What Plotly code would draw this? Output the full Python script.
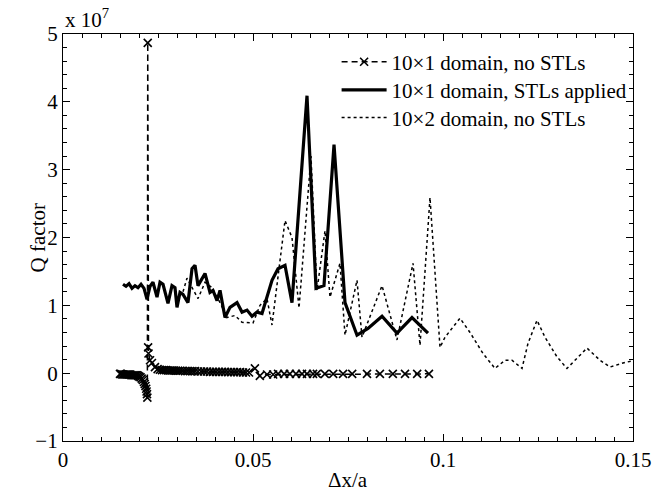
import plotly.graph_objects as go

# ---------------- data (Q factor in units of 1e7) ----------------
# Series 1: 10x1 domain, no STLs
s1_x = [0.0150, 0.0153, 0.0156, 0.0159, 0.0162, 0.0165, 0.0168, 0.0171, 0.0174, 0.0177,
        0.0180, 0.0183, 0.0186, 0.0189, 0.0192, 0.0195, 0.0198, 0.0201, 0.0204, 0.0207,
        0.0210, 0.0213, 0.0215, 0.0217, 0.0219, 0.0220, 0.0221, 0.0222,
        0.0223,
        0.0224, 0.0225, 0.0229, 0.0234, 0.0242, 0.0249, 0.0255,
        0.02605, 0.02658, 0.02711, 0.02763, 0.02816, 0.02868, 0.02921, 0.02974, 0.03026, 0.03079,
        0.03145, 0.03211, 0.03276, 0.03342, 0.03408, 0.03474, 0.03553, 0.03632, 0.03711, 0.03789,
        0.03868, 0.03947, 0.04026, 0.04105, 0.04184, 0.04263, 0.04342, 0.04421, 0.04500, 0.04579,
        0.04658, 0.04737, 0.04816, 0.04895,
        0.0505, 0.0518, 0.0537, 0.0553, 0.0566, 0.0582, 0.0597, 0.0613, 0.0629, 0.0642,
        0.0658, 0.0668, 0.0689, 0.0711, 0.0737, 0.0761, 0.0800, 0.0834, 0.0868, 0.0900,
        0.0932, 0.0963]
s1_y = [-0.01, -0.01, -0.02, -0.02, -0.02, -0.02, -0.02, -0.02, -0.02, -0.02,
        -0.03, -0.03, -0.03, -0.03, -0.03, -0.03, -0.04, -0.05, -0.06, -0.08,
        -0.10, -0.13, -0.16, -0.19, -0.23, -0.27, -0.31, -0.36,
        4.87,
        0.38, 0.29, 0.19, 0.15, 0.09, 0.06, 0.05,
        0.045, 0.045, 0.045, 0.04, 0.04, 0.04, 0.04, 0.035, 0.035, 0.035,
        0.035, 0.03, 0.03, 0.03, 0.03, 0.03, 0.025, 0.025, 0.025, 0.025,
        0.02, 0.02, 0.02, 0.02, 0.02, 0.02, 0.015, 0.015, 0.015, 0.015,
        0.015, 0.01, 0.01, 0.01,
        0.07, -0.04, -0.02, -0.02, -0.01, -0.01, -0.01, -0.01, -0.01, -0.01,
        -0.01, -0.01, -0.01, -0.01, -0.01, -0.01, -0.01, -0.01, -0.01, -0.01,
        -0.01, -0.01]

# Series 2: 10x1 domain, STLs applied
s2_x = [0.01579, 0.01658, 0.01737, 0.01816, 0.01895, 0.01974, 0.02053, 0.02132, 0.02211, 0.02289,
        0.02368, 0.02474, 0.02553, 0.02632, 0.02763, 0.02868, 0.02947, 0.03000, 0.03079, 0.03158,
        0.03289, 0.03395, 0.03474, 0.03553, 0.03737, 0.03868, 0.03947, 0.04053, 0.04132, 0.04263,
        0.04395, 0.04579, 0.04711, 0.04842, 0.04974, 0.05105, 0.05237, 0.05500, 0.05658, 0.05842,
        0.06026, 0.06421, 0.06658, 0.06868, 0.07132, 0.07421, 0.07737, 0.08026, 0.08395, 0.08789,
        0.09184, 0.09605]
s2_y = [1.31, 1.28, 1.32, 1.25, 1.29, 1.26, 1.31, 1.25, 1.09, 1.28,
        1.34, 1.12, 1.34, 1.31, 1.03, 1.29, 1.26, 0.97, 1.19, 1.16,
        1.04, 1.54, 1.59, 1.29, 1.47, 1.19, 1.22, 1.07, 1.22, 0.82,
        0.97, 1.04, 0.90, 0.93, 0.84, 0.90, 0.88, 1.37, 1.54, 1.59,
        1.04, 4.09, 1.25, 1.29, 3.37, 1.04, 0.56, 0.66, 0.84, 0.59,
        0.82, 0.59]

# Series 3: 10x2 domain, no STLs
s3_x = [0.03158, 0.03263, 0.03553, 0.03737, 0.03921, 0.04132, 0.04316, 0.04526, 0.04711, 0.05000,
        0.05184, 0.05368, 0.05500, 0.05842, 0.06026, 0.06211, 0.06526, 0.06684, 0.06895, 0.07026,
        0.07289, 0.07421, 0.07737, 0.07868, 0.08395, 0.08789, 0.09211, 0.09395, 0.09658, 0.09921,
        0.10053, 0.10263, 0.10447, 0.10711, 0.11053, 0.11368, 0.11632, 0.11816, 0.12079, 0.12237,
        0.12474, 0.12684, 0.13000, 0.13263, 0.13526, 0.13789, 0.14132, 0.14395, 0.14737, 0.15000,
        0.15200]
s3_y = [1.20, 1.40, 1.10, 1.34, 1.26, 1.04, 0.82, 0.85, 0.75, 0.74,
        1.00, 1.10, 0.71, 2.25, 2.00, 0.96, 3.20, 1.22, 2.10, 1.12,
        1.62, 0.56, 1.37, 0.53, 1.29, 0.49, 1.62, 0.41, 2.59, 0.38,
        0.53, 0.68, 0.81, 0.60, 0.29, 0.07, 0.19, 0.19, 0.07, 0.44,
        0.78, 0.53, 0.24, 0.07, 0.22, 0.37, 0.19, 0.09, 0.15, 0.19,
        0.21]

names = ["10×1 domain, no STLs", "10×1 domain, STLs applied", "10×2 domain, no STLs"]

x_ticks = [0, 0.05, 0.1, 0.15]
x_ticktext = ["0", "0.05", "0.1", "0.15"]
y_ticks = [-1, 0, 1, 2, 3, 4, 5]

FONT = "Liberation Serif"
FS = 21

fig = go.Figure()
fig.add_trace(go.Scatter(
    x=s1_x, y=s1_y, name=names[0], mode="lines+markers", legend="legend",
    line=dict(color="black", width=1.5, dash="6px,4px"),
    marker=dict(symbol="x-thin", size=8, line=dict(color="black", width=1.6)),
))
fig.add_trace(go.Scatter(
    x=s2_x, y=s2_y, name=names[1], mode="lines", legend="legend2",
    line=dict(color="black", width=3.2),
))
fig.add_trace(go.Scatter(
    x=s3_x, y=s3_y, name=names[2], mode="lines", legend="legend3",
    line=dict(color="black", width=1.5, dash="dot"),
))

axis_common = dict(
    showline=True, linecolor="black", linewidth=1.2, mirror="allticks",
    ticks="inside", ticklen=7, tickwidth=1, tickcolor="black",
    showgrid=False, zeroline=False, automargin=False,
    tickfont=dict(family=FONT, size=FS, color="black"),
)

def leg(yc):
    return dict(
        x=0.48, y=yc, xanchor="left", yanchor="middle",
        bgcolor="rgba(0,0,0,0)", borderwidth=0,
        font=dict(family=FONT, size=FS, color="black"),
        itemwidth=45,
    )

fig.update_layout(
    width=654, height=491,
    margin=dict(l=63, r=21, t=34, b=50),
    paper_bgcolor="white", plot_bgcolor="white",
    font=dict(family=FONT, size=FS, color="black"),
    showlegend=True,
    legend=leg(0.931),
    legend2=leg(0.862),
    legend3=leg(0.794),
    xaxis=dict(
        range=[0, 0.15], tickvals=x_ticks, ticktext=x_ticktext,
        minor=dict(dtick=0.005, ticks="inside", ticklen=4, tickcolor="black"),
        **axis_common,
    ),
    yaxis=dict(
        range=[-1, 5], tickvals=y_ticks,
        minor=dict(dtick=0.2, ticks="inside", ticklen=4, tickcolor="black"),
        **axis_common,
    ),
    annotations=[
        dict(text="x 10<sup>7</sup>", xref="paper", yref="paper", x=0, y=1,
             xanchor="left", yanchor="bottom", showarrow=False, yshift=0,
             font=dict(family=FONT, size=FS, color="black")),
        dict(text="Δx/a", xref="paper", yref="paper", x=0.5, y=-0.096,
             xanchor="center", yanchor="middle", showarrow=False,
             font=dict(family=FONT, size=FS, color="black")),
        dict(text="Q factor", xref="paper", yref="paper", x=-0.044, y=0.5,
             xanchor="center", yanchor="middle", showarrow=False, textangle=-90,
             font=dict(family=FONT, size=FS, color="black")),
    ],
)

fig.write_html("out.html")
